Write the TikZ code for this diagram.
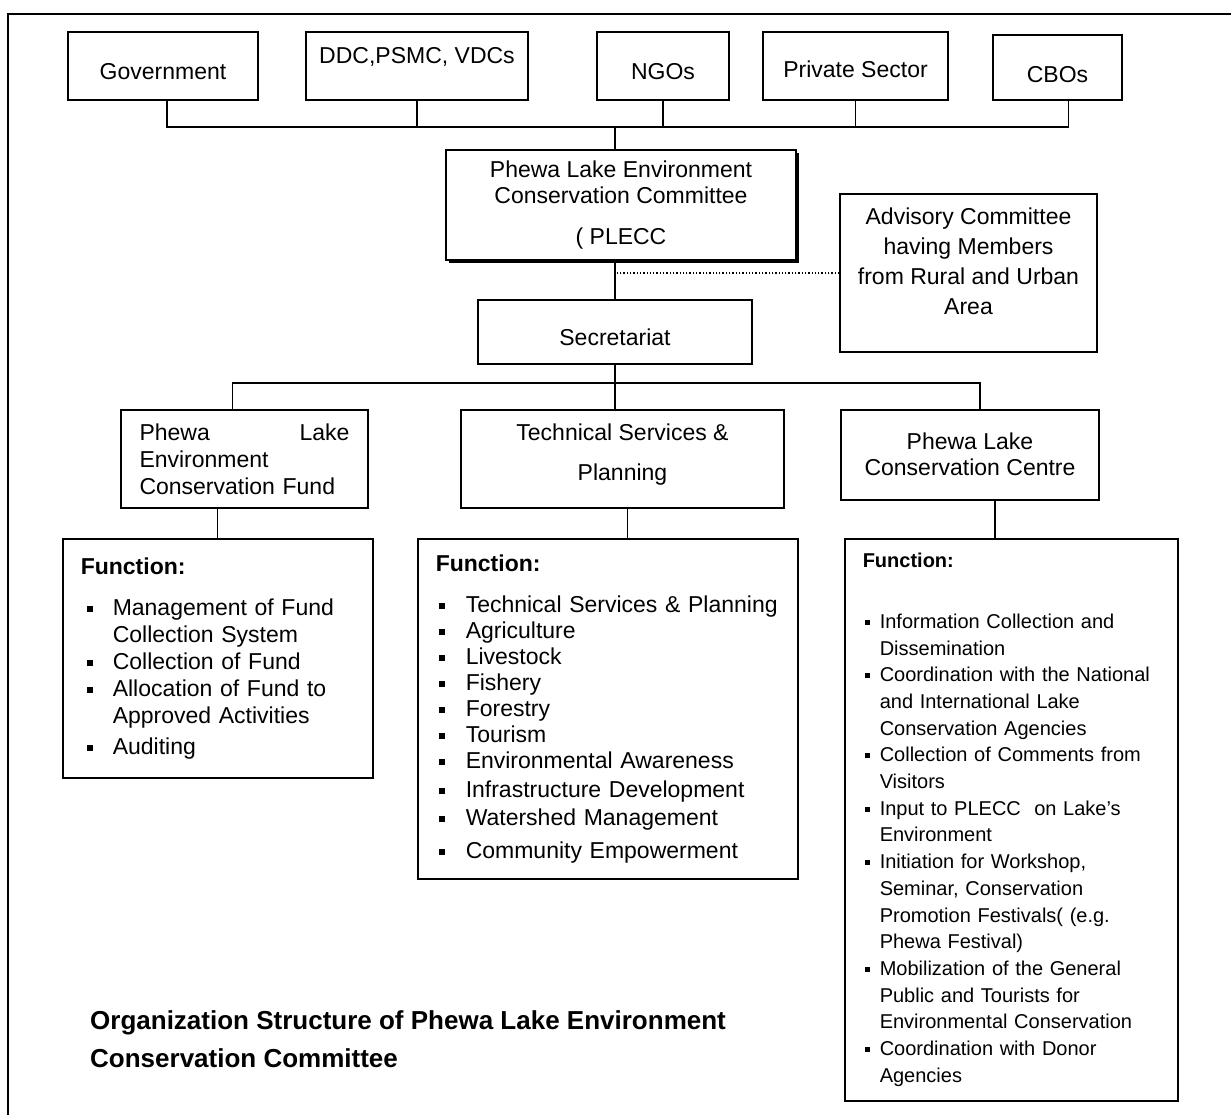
\documentclass[tikz,border=0pt]{standalone}
\usepackage{fontspec}
\setmainfont{Liberation Sans}
\usetikzlibrary{positioning,shadows}
\tikzset{
  orgbox/.style={draw, line width=1.5pt, fill=white, align=center, inner sep=0pt, font=\fontsize{23}{26}\selectfont},
  fnbox/.style={draw, line width=1.5pt, anchor=north west, inner xsep=18pt, inner ysep=0pt, align=left},
  link/.style={line width=1.4pt},
  advlink/.style={line width=1.3pt, dotted},
  capnode/.style={font=\bfseries\fontsize{26}{38}\selectfont, align=left, anchor=north west, inner sep=0pt},
}
% bullet item: hang indent, bullet offset, bullet size
\newcommand{\fnbul}[3]{\par\noindent\hangindent=#1\hangafter=1\makebox[#1][l]{\hspace{#2}\raisebox{3.5pt}{\rule{#3}{#3}}}}

\begin{document}
\begin{tikzpicture}[x=1pt, y=-1pt]
  \useasboundingbox (0,0) rectangle (1231,1115);
  \draw[line width=2.5pt] (8,1115) -- (8,14) -- (1231,14);

  % partners
  \node[orgbox, minimum width=190pt, minimum height=68pt, text height=28pt, text depth=0pt] (gov) at (163,66) {Government};
  \node[orgbox, minimum width=222pt, minimum height=68pt] (ddc) at (417,66) {DDC,PSMC, VDCs\\[-4pt]\mbox{}};
  \node[orgbox, minimum width=132pt, minimum height=68pt, text height=28pt, text depth=0pt] (ngo) at (663,66) {NGOs};
  \node[orgbox, minimum width=185pt, minimum height=68pt, text height=24pt, text depth=0pt] (pvt) at (855.5,66) {Private Sector};
  \node[orgbox, minimum width=129pt, minimum height=65pt, text height=31pt, text depth=0pt] (cbo) at (1057.5,67.5) {CBOs};

  % committee
  \node[orgbox, minimum width=350pt, minimum height=110pt,
        drop shadow={shadow xshift=3pt, shadow yshift=-3pt, fill=black, opacity=1}] (plecc) at (621,205)
        {Phewa Lake Environment\\Conservation Committee\\[15pt]( PLECC};
  \node[orgbox, minimum width=257pt, minimum height=158pt, font=\fontsize{23}{30}\selectfont] (adv) at (968.5,273)
        {Advisory Committee\\having Members\\from Rural and Urban\\Area\\[-7pt]\mbox{}};
  \node[orgbox, minimum width=274pt, minimum height=64pt, text height=26pt, text depth=0pt] (sec) at (615,332) {Secretariat};

  % units
  \node[orgbox, minimum width=247pt, minimum height=98pt, align=left, text width=210pt, font=\fontsize{23}{27}\selectfont] (fund) at (244.5,459)
        {Phewa\hfill Lake\\Environment\\Conservation Fund};
  \node[orgbox, minimum width=323pt, minimum height=98pt] (tech) at (622.5,459) {Technical Services \&\\[14pt]Planning\\[-12pt]\mbox{}};
  \node[orgbox, minimum width=258pt, minimum height=90pt] (ctr) at (970,455) {\mbox{}\\[-10pt]Phewa Lake\\Conservation Centre};

  % functions
  \node[fnbox, text width=274pt, minimum height=239pt, font=\fontsize{23}{27}\selectfont] (ffund) at (62,538) {%
    \textbf{Function:}\par\vspace{14pt}
    \fnbul{32pt}{6pt}{6pt}Management of Fund\newline Collection System
    \fnbul{32pt}{6pt}{6pt}Collection of Fund
    \fnbul{32pt}{6pt}{6pt}Allocation of Fund to\newline Approved Activities\par\vspace{4pt}
    \fnbul{32pt}{6pt}{6pt}Auditing\par};
  \node[fnbox, text width=344pt, minimum height=340pt, font=\fontsize{23}{26}\selectfont] (ftech) at (417,538) {%
    \textbf{Function:}\par\vspace{15pt}
    \fnbul{30pt}{3pt}{6pt}Technical Services \& Planning
    \fnbul{30pt}{3pt}{6pt}Agriculture
    \fnbul{30pt}{3pt}{6pt}Livestock
    \fnbul{30pt}{3pt}{6pt}Fishery
    \fnbul{30pt}{3pt}{6pt}Forestry
    \fnbul{30pt}{3pt}{6pt}Tourism
    \fnbul{30pt}{3pt}{6pt}Environmental Awareness\par\vspace{3pt}
    \fnbul{30pt}{3pt}{6pt}Infrastructure Development\par\vspace{2pt}
    \fnbul{30pt}{3pt}{6pt}Watershed Management\par\vspace{7pt}
    \fnbul{30pt}{3pt}{6pt}Community Empowerment\par};
  \node[fnbox, text width=297pt, minimum height=562pt, font=\fontsize{20}{26.7}\selectfont] (fctr) at (844,538) {%
    \textbf{Function:}\par\vspace{34pt}
    \fnbul{17pt}{2pt}{5pt}Information Collection and\newline Dissemination
    \fnbul{17pt}{2pt}{5pt}Coordination with the National\newline and International Lake\newline Conservation Agencies
    \fnbul{17pt}{2pt}{5pt}Collection of Comments from\newline Visitors
    \fnbul{17pt}{2pt}{5pt}Input to PLECC\ \ on Lake's\newline Environment
    \fnbul{17pt}{2pt}{5pt}Initiation for Workshop,\newline Seminar, Conservation\newline Promotion Festivals( (e.g.\newline Phewa Festival)
    \fnbul{17pt}{2pt}{5pt}Mobilization of the General\newline Public and Tourists for\newline Environmental Conservation
    \fnbul{17pt}{2pt}{5pt}Coordination with Donor\newline Agencies\par};

  \node[capnode] (cap) at (90,1010) {Organization Structure of Phewa Lake Environment\\Conservation Committee};

  % connectors
  \coordinate (topbus) at (0,127);
  \coordinate (lowbus) at (0,383);
  \draw[link] ([xshift=4pt]gov.south) -- ([xshift=4pt]gov.south |- topbus) -| ([xshift=11pt]cbo.south);
  \foreach \n in {ddc,ngo,pvt}
    \draw[link] (\n.south) -- (\n.south |- topbus);
  \draw[link] ([xshift=-6pt]plecc.north) -- ([xshift=-6pt]plecc.north |- topbus);
  \draw[link] (sec.north) -- (sec.north |- plecc.south);
  \draw[advlink] (adv.west) -- (adv.west -| sec.north);
  \draw[link] (sec.south) -- (sec.south |- tech.north);
  \draw[link] ([xshift=-12pt]fund.north) |- (lowbus -| sec.south) -| ([xshift=10pt]ctr.north);
  \draw[link] (ffund.north) -- (ffund.north |- fund.south);
  \draw[link] ([xshift=5pt]tech.south) -- ([xshift=5pt]tech.south |- ftech.north);
  \draw[link] ([xshift=25pt]ctr.south) -- ([xshift=25pt]ctr.south |- fctr.north);
\end{tikzpicture}
\end{document}
